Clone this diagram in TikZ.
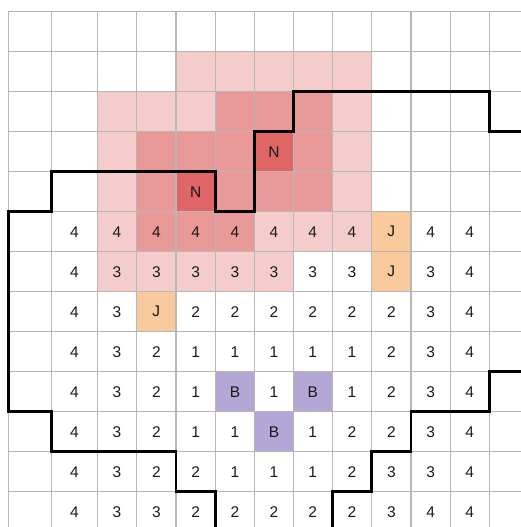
\documentclass[tikz,border=0pt]{standalone}
\usepackage{fontspec}
\setmainfont{Liberation Sans}
\definecolor{pinklt}{HTML}{F4CCCC}
\definecolor{pinkmd}{HTML}{EA9999}
\definecolor{pinkdk}{HTML}{E06666}
\definecolor{jorange}{HTML}{F9CB9C}
\definecolor{bpurple}{HTML}{B4A7D6}
\definecolor{gridgray}{HTML}{B7B7B7}
% column edges (px), rows are 40px apart from 11.7
\newcommand{\colx}{{8.3,51.7,97.3,136.7,176,215.3,254.7,293.3,332.3,371.7,411,450.3,489.3,528.6}}
\tikzset{
  cellnum/.style={font=\fontsize{15.5}{17}\selectfont, text=black!90, inner sep=0pt},
  gridline/.style={gridgray, line width=1.4pt},
  wall/.style={black, line width=2.8pt},
}
\newcommand{\paintcell}[3]{%
  \pgfmathsetmacro\xa{\colx[#1]}%
  \pgfmathtruncatemacro\nx{#1+1}%
  \pgfmathsetmacro\xb{\colx[\nx]}%
  \pgfmathsetmacro\ya{11.7+40*#2}%
  \fill[#3] (\xa,\ya) rectangle (\xb,\ya+40);}

\begin{document}
\begin{tikzpicture}[x=1pt, y=-1pt]
\useasboundingbox (0,0) rectangle (521,527);
\clip (0,0) rectangle (521,527);
% shaded cells
\foreach \c/\r/\col in {4/1/pinklt,5/1/pinklt,6/1/pinklt,7/1/pinklt,8/1/pinklt,
  2/2/pinklt,3/2/pinklt,4/2/pinklt,5/2/pinkmd,6/2/pinkmd,7/2/pinkmd,8/2/pinklt,
  2/3/pinklt,3/3/pinkmd,4/3/pinkmd,5/3/pinkmd,6/3/pinkdk,7/3/pinkmd,8/3/pinklt,
  2/4/pinklt,3/4/pinkmd,4/4/pinkdk,5/4/pinkmd,6/4/pinkmd,7/4/pinkmd,8/4/pinklt,
  2/5/pinklt,3/5/pinkmd,4/5/pinkmd,5/5/pinkmd,6/5/pinklt,7/5/pinklt,8/5/pinklt,9/5/jorange,
  2/6/pinklt,3/6/pinklt,4/6/pinklt,5/6/pinklt,6/6/pinklt,9/6/jorange,
  3/7/jorange,5/9/bpurple,7/9/bpurple,6/10/bpurple}
  \paintcell{\c}{\r}{\col};
% grid
\foreach \i in {0,...,13} {
  \pgfmathsetmacro\xx{\colx[\i]}
  \draw[gridline] (\xx,11.7) -- (\xx,540);
}
\foreach \j in {0,...,12}
  \draw[gridline] (8.3,11.7+40*\j) -- (540,11.7+40*\j);
% labels
\foreach \r/\vals in {5/{4,4,4,4,4,4,4,4,J,4,4},
  6/{4,3,3,3,3,3,3,3,J,3,4},
  7/{4,3,J,2,2,2,2,2,2,3,4},
  8/{4,3,2,1,1,1,1,1,2,3,4},
  9/{4,3,2,1,B,1,B,1,2,3,4},
  10/{4,3,2,1,1,B,1,2,2,3,4},
  11/{4,3,2,2,1,1,1,2,3,3,4},
  12/{4,3,3,2,2,2,2,2,3,4,4}} {
  \foreach \v [count=\c] in \vals {
    \pgfmathtruncatemacro\nc{\c+1}
    \pgfmathsetmacro\xa{\colx[\c]}
    \pgfmathsetmacro\xb{\colx[\nc]}
    \node[cellnum] (cell-\r-\c) at ({(\xa+\xb)/2},31.7+40*\r) {\v};
  }
}
\node[cellnum] (cell-3-6) at (274,151.7) {N};
\node[cellnum] (cell-4-4) at (195.65,191.7) {N};
% walls
\draw[wall] (530,131.7) -- (489.3,131.7) -- (489.3,91.7) -- (293.3,91.7) -- (293.3,131.7)
  -- (254.7,131.7) -- (254.7,211.7) -- (215.3,211.7) -- (215.3,171.7) -- (51.7,171.7)
  -- (51.7,211.7) -- (8.3,211.7) -- (8.3,411.7) -- (51.7,411.7) -- (51.7,451.7)
  -- (176,451.7) -- (176,491.7) -- (215.3,491.7) -- (215.3,535);
\draw[wall] (332.3,535) -- (332.3,491.7) -- (371.7,491.7) -- (371.7,451.7) -- (411,451.7)
  -- (411,411.7) -- (489.3,411.7) -- (489.3,371.7) -- (530,371.7);
\end{tikzpicture}
\end{document}
